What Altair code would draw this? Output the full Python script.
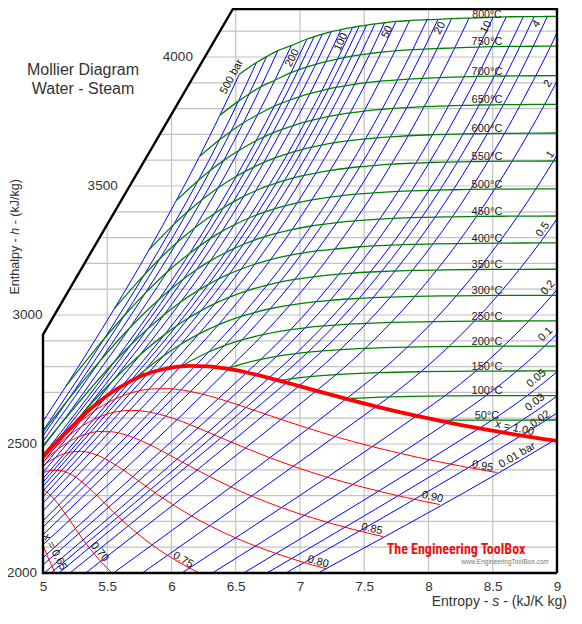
import altair as alt
import pandas as pd
import numpy as np

# ---------------- data (entropy s kJ/K kg, enthalpy h kJ/kg) ----------------
# saturated vapour line x = 1.00 : temperature degC, s, h
SAT_T = [370, 360, 350, 340, 330, 320, 310, 300, 280, 260, 250, 240, 220, 200, 180,
         160, 150, 140, 120, 100, 80, 60, 50, 40, 30, 20, 10, 5]
SAT_S = [4.800, 5.053, 5.218, 5.336, 5.442, 5.536, 5.624, 5.705, 5.857, 6.001, 6.073,
         6.141, 6.282, 6.431, 6.585, 6.749, 6.837, 6.929, 7.129, 7.354, 7.611, 7.908,
         8.075, 8.256, 8.452, 8.666, 8.899, 9.024]
SAT_H = [2331.0, 2481.0, 2563.6, 2622.0, 2666.0, 2700.6, 2727.3, 2749.6, 2779.9, 2796.4,
         2800.9, 2803.0, 2801.0, 2792.0, 2777.2, 2757.4, 2745.9, 2733.5, 2706.0, 2675.6,
         2643.0, 2608.8, 2591.3, 2573.5, 2555.6, 2537.4, 2519.2, 2510.1]

# constant quality lines (s, h)
X095 = [(4.996, 2445.0), (5.252, 2570.6), (5.432, 2638.6), (5.583, 2679.4), (5.718, 2702.7),
        (5.845, 2713.3), (5.969, 2714.7), (6.094, 2708.1), (6.226, 2695.0), (6.363, 2676.5),
        (6.509, 2653.3), (6.670, 2626.3), (6.849, 2595.9), (7.052, 2562.8), (7.284, 2527.6),
        (7.554, 2490.9), (7.872, 2453.2), (8.248, 2414.7), (8.532, 2389.5)]
X090 = [(4.939, 2409.1), (5.168, 2519.3), (5.327, 2576.7), (5.460, 2609.1), (5.578, 2625.6),
        (5.689, 2630.3), (5.797, 2626.5), (5.906, 2615.3), (6.021, 2598.0), (6.140, 2575.8),
        (6.268, 2549.2), (6.410, 2519.1), (6.569, 2485.8), (6.749, 2450.0), (6.957, 2412.2),
        (7.200, 2373.0), (7.488, 2332.9), (7.829, 2292.1), (8.088, 2265.3)]
X085 = [(4.883, 2373.1), (5.085, 2467.9), (5.223, 2514.7), (5.338, 2538.9), (5.439, 2548.4),
        (5.534, 2547.2), (5.625, 2538.2), (5.717, 2522.4), (5.816, 2501.0), (5.918, 2475.1),
        (6.028, 2445.1), (6.151, 2411.9), (6.289, 2375.7), (6.447, 2337.1), (6.631, 2296.8),
        (6.847, 2255.1), (7.104, 2212.6), (7.411, 2169.4), (7.645, 2141.1)]
X080 = [(4.826, 2337.1), (5.001, 2416.5), (5.119, 2452.7), (5.215, 2468.6), (5.299, 2471.3),
        (5.378, 2464.1), (5.453, 2449.9), (5.529, 2429.5), (5.611, 2404.1), (5.696, 2374.4),
        (5.788, 2341.0), (5.891, 2304.6), (6.009, 2265.6), (6.145, 2224.3), (6.304, 2181.4),
        (6.493, 2137.3), (6.719, 2092.3), (6.992, 2046.7), (7.201, 2016.8)]
X075 = [(4.917, 2365.1), (5.014, 2390.8), (5.092, 2398.4), (5.160, 2394.1), (5.222, 2381.1),
        (5.281, 2361.7), (5.341, 2336.7), (5.406, 2307.1), (5.474, 2273.7), (5.547, 2236.9),
        (5.632, 2197.4), (5.729, 2155.5), (5.842, 2111.5), (5.977, 2066.0), (6.139, 2019.4),
        (6.335, 1972.0)]
X070 = [(4.970, 2328.2), (5.020, 2317.0), (5.066, 2298.0), (5.109, 2273.4), (5.153, 2243.8),
        (5.201, 2210.1), (5.251, 2173.0), (5.307, 2132.8), (5.372, 2090.2), (5.449, 2045.3),
        (5.540, 1998.7)]
X065 = [(4.965, 2150.9), (4.996, 2113.1), (5.029, 2072.3), (5.067, 2028.7), (5.113, 1983.0)]

# isobars: (temperature degC or None, s, h)
P0_01 = [(None, 7.141, 2000.0), (None, 8.975, 2513.7), (50, 9.238, 2593.1)]
P0_02 = [(None, 6.889, 2000.0), (None, 8.724, 2533.2), (50, 8.918, 2593.0), (100, 9.191, 2687.9)]
P0_03 = [(None, 6.743, 2000.0), (None, 8.576, 2544.9), (50, 8.731, 2592.9), (100, 9.004, 2687.8),
         (150, 9.244, 2783.3)]
P0_05 = [(None, 6.562, 2000.0), (None, 8.394, 2560.7), (50, 8.495, 2592.8), (100, 8.768, 2687.7),
         (150, 9.008, 2783.2), (200, 9.224, 2879.6)]
P0_1 = [(None, 6.318, 2000.0), (None, 8.149, 2583.9), (50, 8.175, 2592.6), (100, 8.448, 2687.5),
        (150, 8.688, 2783.0), (200, 8.904, 2879.5), (250, 9.100, 2977.3), (300, 9.281, 3076.5)]
P0_2 = [(None, 6.080, 2000.0), (None, 7.907, 2608.9), (100, 8.127, 2686.3), (150, 8.368, 2782.4),
        (200, 8.584, 2879.1), (250, 8.781, 2977.0), (300, 8.962, 3076.3), (350, 9.131, 3177.4),
        (400, 9.288, 3279.5)]
P0_5 = [(None, 5.773, 2000.0), (None, 7.593, 2645.2), (100, 7.695, 2682.4), (150, 7.941, 2780.2),
        (200, 8.159, 2877.8), (250, 8.357, 2976.2), (300, 8.539, 3075.8), (350, 8.708, 3177.0),
        (400, 8.866, 3279.3), (450, 9.016, 3383.8), (500, 9.157, 3489.0), (550, 9.292, 3597.3)]
P1 = [(None, 5.548, 2000.0), (None, 7.359, 2674.9), (150, 7.615, 2776.6), (200, 7.836, 2875.5),
      (250, 8.035, 2974.5), (300, 8.217, 3074.5), (350, 8.386, 3176.3), (400, 8.545, 3278.6),
      (450, 8.695, 3383.2), (500, 8.836, 3488.7), (550, 8.972, 3596.9), (600, 9.100, 3705.6),
      (650, 9.224, 3816.6)]
P2 = [(None, 5.332, 2000.0), (None, 7.127, 2706.2), (150, 7.281, 2769.1), (200, 7.508, 2870.7),
      (250, 7.710, 2971.2), (300, 7.894, 3072.1), (350, 8.064, 3174.3), (400, 8.224, 3277.0),
      (450, 8.374, 3382.0), (500, 8.515, 3487.7), (550, 8.651, 3596.2), (600, 8.779, 3704.8),
      (650, 8.904, 3816.3), (700, 9.022, 3927.9), (750, 9.138, 4042.3)]
P3 = [(None, 5.209, 2000.0), (None, 6.992, 2724.9), (150, 7.079, 2761.2), (200, 7.313, 2865.9),
      (250, 7.518, 2967.9), (300, 7.704, 3069.6), (350, 7.874, 3172.6), (400, 8.035, 3275.5),
      (450, 8.186, 3380.7), (500, 8.327, 3486.6), (550, 8.463, 3595.3), (600, 8.592, 3704.0),
      (650, 8.716, 3815.7), (700, 8.835, 3927.4), (750, 8.951, 4042.0), (800, 9.058, 4157.4)]
P4 = [(None, 5.124, 2000.0), (None, 6.896, 2738.1), (150, 6.931, 2752.8), (200, 7.172, 2860.9),
      (250, 7.380, 2964.5), (300, 7.568, 3067.1), (350, 7.739, 3170.5), (400, 7.900, 3273.9),
      (450, 8.052, 3379.5), (500, 8.193, 3485.5), (550, 8.329, 3594.4), (600, 8.458, 3703.3),
      (650, 8.583, 3815.1), (700, 8.702, 3926.9), (750, 8.815, 4041.7), (800, 8.925, 4157.0)]
P5 = [(None, 5.060, 2000.0), (None, 6.821, 2748.1), (200, 7.061, 2855.8), (250, 7.273, 2961.0),
      (300, 7.461, 3064.6), (350, 7.634, 3168.6), (400, 7.796, 3272.4), (450, 7.947, 3378.3),
      (500, 8.089, 3484.5), (550, 8.226, 3593.5), (600, 8.354, 3702.5), (650, 8.479, 3814.5),
      (700, 8.598, 3926.4), (750, 8.712, 4041.3), (800, 8.822, 4156.6)]
P6 = [(None, 5.009, 2000.0), (None, 6.759, 2756.2), (200, 6.968, 2850.6), (250, 7.183, 2957.6),
      (300, 7.374, 3062.0), (350, 7.547, 3166.6), (400, 7.710, 3270.8), (450, 7.862, 3377.1),
      (500, 8.004, 3483.4), (550, 8.141, 3592.7), (600, 8.270, 3701.7), (650, 8.394, 3813.9),
      (700, 8.513, 3925.9), (750, 8.627, 4041.0), (800, 8.738, 4156.3)]
P8 = [(None, 5.000, 2031.3), (None, 6.662, 2768.3), (200, 6.818, 2839.8), (250, 7.040, 2950.4),
      (300, 7.235, 3056.9), (350, 7.409, 3162.6), (400, 7.574, 3267.7), (450, 7.726, 3374.5),
      (500, 7.869, 3481.3), (550, 8.006, 3591.0), (600, 8.135, 3700.1), (650, 8.260, 3812.6),
      (700, 8.380, 3924.9), (750, 8.494, 4040.3), (800, 8.605, 4155.7)]
P10 = [(None, 5.000, 2059.0), (None, 6.585, 2777.1), (200, 6.696, 2828.3), (250, 6.927, 2943.1),
       (300, 7.125, 3051.6), (350, 7.303, 3158.2), (400, 7.467, 3264.5), (450, 7.621, 3372.0),
       (500, 7.764, 3479.1), (550, 7.902, 3588.9), (600, 8.031, 3698.6), (650, 8.156, 3810.6),
       (700, 8.276, 3923.0), (750, 8.392, 4038.5), (800, 8.502, 4154.1)]
P15 = [(None, 5.000, 2109.9), (None, 6.445, 2791.0), (200, 6.455, 2796.0), (250, 6.712, 2923.9),
       (300, 6.921, 3038.2), (350, 7.105, 3147.8), (400, 7.271, 3255.5), (450, 7.427, 3365.0),
       (500, 7.573, 3473.7), (550, 7.711, 3584.4), (600, 7.842, 3694.8), (650, 7.966, 3807.5),
       (700, 8.088, 3920.2), (750, 8.204, 4035.5), (800, 8.316, 4151.0)]
P20 = [(None, 5.000, 2148.2), (None, 6.339, 2798.3), (250, 6.548, 2903.3), (300, 6.768, 3024.2),
       (350, 6.958, 3137.7), (400, 7.129, 3248.4), (450, 7.287, 3358.2), (500, 7.434, 3468.3),
       (550, 7.573, 3579.3), (600, 7.704, 3690.7), (650, 7.831, 3804.0), (700, 7.951, 3917.2),
       (750, 8.068, 4032.7), (800, 8.179, 4148.5)]
P25 = [(None, 5.000, 2177.7), (None, 6.256, 2802.0), (250, 6.411, 2880.9), (300, 6.646, 3009.6),
       (350, 6.842, 3127.0), (400, 7.017, 3240.1), (450, 7.177, 3351.6), (500, 7.325, 3462.8),
       (550, 7.466, 3574.6), (600, 7.598, 3686.8), (650, 7.725, 3800.6), (700, 7.846, 3914.4),
       (750, 7.963, 4030.2), (800, 8.074, 4146.0)]
P30 = [(None, 5.000, 2202.1), (None, 6.186, 2803.2), (250, 6.289, 2856.5), (300, 6.541, 2994.3),
       (350, 6.745, 3116.1), (400, 6.924, 3231.7), (450, 7.086, 3344.9), (500, 7.236, 3457.0),
       (550, 7.377, 3569.7), (600, 7.510, 3682.8), (650, 7.638, 3797.3), (700, 7.759, 3911.7),
       (750, 7.877, 4028.2), (800, 7.989, 4144.7)]
P40 = [(None, 5.000, 2240.9), (None, 6.070, 2800.8), (300, 6.364, 2961.7), (350, 6.584, 3093.3),
       (400, 6.771, 3214.5), (450, 6.939, 3331.2), (500, 7.092, 3446.0), (550, 7.235, 3560.2),
       (600, 7.371, 3674.9), (650, 7.499, 3790.6), (700, 7.621, 3906.3), (750, 7.740, 4023.8),
       (800, 7.852, 4141.2)]
P50 = [(None, 5.000, 2271.2), (None, 5.974, 2794.2), (300, 6.211, 2925.7), (350, 6.452, 3069.3),
       (400, 6.648, 3196.7), (450, 6.821, 3317.2), (500, 6.978, 3434.7), (550, 7.124, 3550.3),
       (600, 7.261, 3666.9), (650, 7.390, 3783.6), (700, 7.514, 3900.3), (750, 7.633, 4019.0),
       (800, 7.746, 4137.7)]
P60 = [(None, 5.000, 2296.1), (None, 5.890, 2784.6), (300, 6.070, 2885.6), (350, 6.336, 3043.9),
       (400, 6.543, 3178.3), (450, 6.722, 3302.9), (500, 6.883, 3423.1), (550, 7.031, 3541.3),
       (600, 7.169, 3658.7), (650, 7.300, 3776.5), (700, 7.425, 3894.3), (750, 7.545, 4013.5),
       (800, 7.658, 4132.7)]
P70 = [(None, 5.000, 2317.1), (None, 5.815, 2772.6), (300, 5.934, 2839.9), (350, 6.231, 3016.9),
       (400, 6.450, 3159.2), (450, 6.635, 3288.3), (500, 6.800, 3411.4), (550, 6.950, 3531.3),
       (600, 7.091, 3650.6), (650, 7.223, 3769.5), (700, 7.349, 3888.3), (750, 7.469, 4008.4),
       (800, 7.584, 4128.5)]
P80 = [(None, 5.000, 2335.4), (None, 5.745, 2758.7), (300, 5.794, 2786.5), (350, 6.132, 2988.1),
       (400, 6.366, 3139.4), (450, 6.558, 3273.3), (500, 6.727, 3399.5), (550, 6.880, 3521.8),
       (600, 7.022, 3642.4), (650, 7.155, 3762.3), (700, 7.282, 3882.2), (750, 7.403, 4003.0),
       (800, 7.519, 4123.9)]
P90 = [(None, 5.000, 2351.6), (None, 5.679, 2742.9), (350, 6.038, 2957.3), (400, 6.288, 3118.8),
       (450, 6.487, 3258.0), (500, 6.660, 3387.4), (550, 6.815, 3511.5), (600, 6.961, 3634.1),
       (650, 7.094, 3755.1), (700, 7.222, 3876.1), (750, 7.344, 3997.7), (800, 7.461, 4119.3)]
P100 = [(None, 5.000, 2365.8), (None, 5.616, 2725.5), (350, 5.946, 2924.0), (400, 6.214, 3097.5),
        (450, 6.422, 3242.4), (500, 6.600, 3375.1), (550, 6.759, 3502.0), (600, 6.905, 3625.8),
        (650, 7.041, 3748.1), (700, 7.170, 3870.0), (750, 7.292, 3992.3), (800, 7.409, 4114.5)]
P120 = [(None, 5.000, 2389.5), (None, 5.494, 2684.8), (350, 5.756, 2846.1), (400, 6.074, 3051.5),
        (450, 6.302, 3209.7), (500, 6.490, 3349.9), (550, 6.655, 3481.6), (600, 6.805, 3608.8),
        (650, 6.945, 3733.3), (700, 7.077, 3857.7), (750, 7.201, 3982.1), (800, 7.320, 4106.5)]
P140 = [(None, 5.000, 2410.3), (None, 5.373, 2637.6), (350, 5.546, 2746.4), (400, 5.943, 3001.4),
        (450, 6.193, 3175.3), (500, 6.392, 3323.9), (550, 6.562, 3459.8), (600, 6.718, 3591.2),
        (650, 6.860, 3719.3), (700, 6.994, 3845.3), (750, 7.123, 3971.8), (800, 7.244, 4098.2)]
P160 = [(None, 5.000, 2428.0), (None, 5.246, 2580.8), (350, 5.303, 2616.0), (400, 5.815, 2946.6),
        (450, 6.091, 3138.6), (500, 6.302, 3296.1), (550, 6.479, 3437.7), (600, 6.640, 3573.4),
        (650, 6.786, 3705.0), (700, 6.922, 3833.3), (750, 7.051, 3961.1), (800, 7.174, 4088.8)]
P180 = [(None, 5.000, 2444.0), (None, 5.104, 2509.5), (400, 5.686, 2885.9), (450, 5.994, 3099.8),
        (500, 6.217, 3266.9), (550, 6.404, 3415.8), (600, 6.570, 3555.6), (650, 6.720, 3690.2),
        (700, 6.858, 3821.5), (750, 6.987, 3950.2), (800, 7.110, 4078.8)]
P200 = [(None, 5.000, 2456.0), (400, 5.554, 2818.1), (450, 5.902, 3060.1), (500, 6.140, 3238.2),
        (550, 6.335, 3393.5), (600, 6.505, 3537.6), (650, 6.658, 3675.3), (700, 6.799, 3809.0),
        (750, 6.930, 3939.4), (800, 7.054, 4069.8)]
P250 = [(None, 5.000, 2488.0), (400, 5.140, 2578.7), (None, 5.470, 2806.3), (450, 5.676, 2950.6),
        (500, 5.964, 3165.9), (550, 6.182, 3338.5), (600, 6.364, 3493.5), (650, 6.524, 3637.7),
        (700, 6.670, 3776.0), (750, 6.804, 3909.9), (800, 6.932, 4043.8)]
P300 = [(400, 4.476, 2152.8), (None, 5.146, 2612.0), (450, 5.442, 2821.0), (500, 5.796, 3084.8),
        (550, 6.040, 3279.7), (600, 6.237, 3446.7), (650, 6.407, 3599.4), (700, 6.560, 3745.4),
        (750, 6.697, 3885.1), (800, 6.828, 4024.7)]
P350 = [(None, 4.775, 2373.5), (450, 5.195, 2671.0), (500, 5.633, 2997.9), (550, 5.909, 3218.0),
        (600, 6.123, 3399.0), (650, 6.303, 3560.7), (700, 6.462, 3711.6), (750, 6.604, 3856.6),
        (800, 6.740, 4001.5)]
P400 = [(None, 4.504, 2198.1), (450, 4.945, 2511.8), (500, 5.474, 2906.5), (550, 5.786, 3154.4),
        (600, 6.017, 3350.4), (650, 6.208, 3521.6), (700, 6.374, 3679.2), (750, 6.521, 3828.9),
        (800, 6.661, 3978.6)]
P500 = [(450, 4.590, 2284.7), (500, 5.176, 2722.5), (550, 5.556, 3025.0), (600, 5.825, 3252.6),
        (650, 6.037, 3443.5), (700, 6.218, 3614.6), (750, 6.376, 3773.8), (800, 6.528, 3933.0)]

PRESSURES = [0.01, 0.02, 0.03, 0.05, 0.1, 0.2, 0.5, 1, 2, 3, 4, 5, 6, 8, 10, 15, 20, 25, 30,
             40, 50, 60, 70, 80, 90, 100, 120, 140, 160, 180, 200, 250, 300, 350, 400, 500]
ISOBAR_ROWS = [P0_01, P0_02, P0_03, P0_05, P0_1, P0_2, P0_5, P1, P2, P3, P4, P5, P6, P8, P10,
               P15, P20, P25, P30, P40, P50, P60, P70, P80, P90, P100, P120, P140, P160, P180,
               P200, P250, P300, P350, P400, P500]
TEMPS = [50, 100, 150, 200, 250, 300, 350, 400, 450, 500, 550, 600, 650, 700, 750, 800]
QUALITY = [("0.95", X095), ("0.90", X090), ("0.85", X085), ("0.80", X080),
           ("0.75", X075), ("0.70", X070), ("0.65", X065)]

X_TICKS = [5, 5.5, 6, 6.5, 7, 7.5, 8, 8.5, 9]
Y_TICKS = [2000, 2500, 3000, 3500, 4000]
GRID_S = [5.5, 6, 6.5, 7, 7.5, 8, 8.5]
GRID_H = list(range(2100, 4101, 100))
BORDER_CORNER = [(5.0, 2924.0), (6.5, 4205.0)]   # diagonal edge of the chart frame

# isobar labels: text, s, h, angle
ISOBAR_LABELS = [("500 bar", 6.47, 3923, 298), ("200", 6.94, 3996, 298), ("100", 7.32, 4058, 295),
                 ("50", 7.68, 4097, 295), ("20", 8.09, 4112, 298), ("10", 8.45, 4116, 298),
                 ("4", 8.84, 4128, 305), ("2", 8.93, 3896, 305), ("1", 8.95, 3621, 308),
                 ("0.5", 8.89, 3331, 305), ("0.2", 8.93, 3106, 310), ("0.1", 8.91, 2925, 315),
                 ("0.05", 8.84, 2754, 320), ("0.03", 8.83, 2661, 322), ("0.02", 8.87, 2596, 325),
                 ("0.01 bar", 8.69, 2456, 330)]
QUALITY_LABELS = [("x = 1.00", 8.67, 2561, 12), ("0.95", 8.42, 2414, 10), ("0.90", 8.03, 2294, 12),
                  ("0.85", 7.56, 2170, 12), ("0.80", 7.14, 2043, 15), ("0.75", 6.09, 2050, 30),
                  ("0.70", 5.44, 2081, 50), ("x = 0.65", 5.09, 2081, 62)]
ISOTHERM_LABEL_S = 8.455

# ---------------- frame geometry ----------------
W, HGT = 514, 564
S_MIN, S_MAX = 5.0, 9.0
H_MIN = 2000.0
H_TOP = H_MIN + HGT / 0.258
(c_s, c_h), (d_s, d_h) = BORDER_CORNER
slope = (d_h - c_h) / (d_s - c_s)


def border_s(h):
    return S_MIN if h <= c_h else c_s + (h - c_h) / slope


def border_h(s):
    return min(H_TOP, c_h + (s - c_s) * slope)


FONT = "Liberation Sans"
xs = alt.Scale(domain=[S_MIN, S_MAX], nice=False, zero=False)
ys = alt.Scale(domain=[H_MIN, H_TOP], nice=False, zero=False)
xaxis = alt.Axis(values=X_TICKS, format="~g", title=None, grid=False, domain=False,
                 ticks=False, tickSize=0, labelPadding=6, labelFontSize=13.5,
                 labelColor="#333333", labelFont=FONT, labelFlush=False)


def X(f="s"):
    return alt.X(f"{f}:Q", scale=xs, axis=xaxis)


def Y(f="h"):
    return alt.Y(f"{f}:Q", scale=ys, axis=None)


# ---------------- frames ----------------
rows = []
for p, row in zip(PRESSURES, ISOBAR_ROWS):
    for i, (t, s, h) in enumerate(row):
        rows.append({"line": f"p{p}", "i": i, "s": s, "h": h})
df_bar = pd.DataFrame(rows)

sat_lookup = {t: (s, h) for t, s, h in zip(SAT_T, SAT_S, SAT_H)}
rows, lab = [], []
for T in TEMPS:
    pts = []
    if T <= 350 and T in sat_lookup:
        pts.append(sat_lookup[T])
    for row in ISOBAR_ROWS:
        for (t, s, h) in row:
            if t == T:
                pts.append((s, h))
    pts.sort()
    for i, (s, h) in enumerate(pts):
        rows.append({"line": f"t{T}", "i": i, "s": s, "h": h})
    ss = np.array([q[0] for q in pts]); hh = np.array([q[1] for q in pts])
    lab.append({"T": T, "s": ISOTHERM_LABEL_S,
                "h": float(np.interp(ISOTHERM_LABEL_S, ss, hh)), "text": f"{T}°C"})
df_tem = pd.DataFrame(rows)
df_tem_lab = pd.DataFrame(lab)

rows = []
for name, pts in QUALITY:
    for i, (s, h) in enumerate(pts):
        rows.append({"line": name, "i": i, "s": s, "h": h})
df_q = pd.DataFrame(rows)
df_sat = pd.DataFrame({"s": SAT_S, "h": SAT_H, "i": range(len(SAT_S))})

grid_rows = [{"s": s, "s2": s, "h": H_MIN, "h2": border_h(s)} for s in GRID_S]
grid_rows += [{"s": border_s(h), "s2": S_MAX, "h": h, "h2": h} for h in GRID_H]
df_grid = pd.DataFrame(grid_rows)

top_s = border_s(H_TOP)
df_border = pd.DataFrame({"s": [S_MAX, S_MIN, c_s, top_s, S_MAX, S_MAX],
                          "h": [H_MIN, H_MIN, c_h, H_TOP, H_TOP, H_MIN],
                          "i": range(6)})

df_bl = pd.DataFrame(ISOBAR_LABELS, columns=["text", "s", "h", "angle"])
df_ql = pd.DataFrame(QUALITY_LABELS, columns=["text", "s", "h", "angle"])
df_yt = pd.DataFrame({"h": Y_TICKS, "s": [border_s(h) for h in Y_TICKS],
                      "text": [str(h) for h in Y_TICKS]})
df_yt["diag"] = df_yt["h"] > c_h

# ---------------- layers ----------------
grid = alt.Chart(df_grid).mark_rule(color="#c2c2c2", strokeWidth=1.2).encode(
    x=X("s"), x2="s2:Q", y=Y("h"), y2="h2:Q")

isobars = alt.Chart(df_bar).mark_line(color="#0000ff", strokeWidth=1, interpolate="monotone",
                                      clip=True).encode(
    x=X(), y=Y(), detail="line:N", order="i:Q")

isotherms = alt.Chart(df_tem).mark_line(color="#008000", strokeWidth=1.3, interpolate="monotone",
                                        clip=True).encode(
    x=X(), y=Y(), detail="line:N", order="i:Q")

quality = alt.Chart(df_q).mark_line(color="#ff0000", strokeWidth=1, interpolate="monotone",
                                    clip=True).encode(
    x=X(), y=Y(), detail="line:N", order="i:Q")

satline = alt.Chart(df_sat).mark_line(color="#ff0000", strokeWidth=3.8, interpolate="monotone",
                                      clip=True).encode(
    x=X(), y=Y(), order="i:Q")

border = alt.Chart(df_border).mark_line(color="#000000", strokeWidth=2.4, strokeJoin="miter",
                                        clip=False).encode(
    x=X(), y=Y(), order="i:Q")

tem_labels = alt.Chart(df_tem_lab[df_tem_lab["T"] < 800]).mark_text(
    font=FONT, fontSize=11, color="#222222", align="center", baseline="alphabetic",
    dy=-1.5).encode(x=X(), y=Y(), text="text:N")
# the top label sits right against the frame, so it hugs its line
tem_label_top = alt.Chart(df_tem_lab[df_tem_lab["T"] == 800]).mark_text(
    font=FONT, fontSize=10.5, color="#222222", align="center", baseline="alphabetic",
    dy=0.5).encode(x=X(), y=Y(), text="text:N")

bar_labels = alt.Chart(df_bl).mark_text(font=FONT, fontSize=11, color="#111111",
                                        align="center", baseline="middle").encode(
    x=X(), y=Y(), text="text:N", angle=alt.Angle("angle:Q", scale=None))

q_labels = alt.Chart(df_ql).mark_text(font=FONT, fontSize=11, color="#111111",
                                      align="center", baseline="middle").encode(
    x=X(), y=Y(), text="text:N", angle=alt.Angle("angle:Q", scale=None))

yt_v = alt.Chart(df_yt[~df_yt["diag"]]).mark_text(font=FONT, fontSize=13.5, color="#333333",
                                                  align="right", baseline="middle", dx=-6).encode(
    x=X(), y=Y(), text="text:N")
yt_d = alt.Chart(df_yt[df_yt["diag"]]).mark_text(font=FONT, fontSize=13.5, color="#333333",
                                                 align="right", baseline="middle", dx=-12).encode(
    x=X(), y=Y(), text="text:N")

one = pd.DataFrame({"k": [0]})


def note(text, x, y, **kw):
    return alt.Chart(one).mark_text(text=text, font=kw.pop("font", FONT), **kw).encode(
        x=alt.value(x), y=alt.value(y))


title1 = note("Mollier Diagram", 40, 61, fontSize=16, color="#333333", align="center",
              baseline="middle")
title2 = note("Water - Steam", 40, 80, fontSize=16, color="#333333", align="center",
              baseline="middle")

# y title "Enthalpy - h - (kJ/kg)" (h in italics), rotated, reading bottom to top
YT_FS, YT_X, YT_BOTTOM = 12.5, -28, 285.5
YT_SP = 3.47                      # width of a space at this size
yt1 = note("Enthalpy -", YT_X, YT_BOTTOM, fontSize=YT_FS, color="#333333", align="left",
           baseline="middle", angle=270)
yt2_y = YT_BOTTOM - 56.27 - YT_SP
yt2 = note("h", YT_X, yt2_y, fontSize=YT_FS, color="#333333", align="left",
           baseline="middle", angle=270, fontStyle="italic")
yt3 = note("- (kJ/kg)", YT_X, yt2_y - 6.95 - YT_SP, fontSize=YT_FS, color="#333333",
           align="left", baseline="middle", angle=270)

# x title "Entropy - s - (kJ/K kg)" (s in italics), right aligned
XT_FS, XT_RIGHT, XT_Y = 14, 524, 593
XT_SP = 3.89
xt3 = note("- (kJ/K kg)", XT_RIGHT, XT_Y, fontSize=XT_FS, color="#333333", align="right",
           baseline="middle")
xt2_x = XT_RIGHT - 63.78 - XT_SP
xt2 = note("s", xt2_x, XT_Y, fontSize=XT_FS, color="#333333", align="right",
           baseline="middle", fontStyle="italic")
xt1 = note("Entropy -", xt2_x - 7.0 - XT_SP, XT_Y, fontSize=XT_FS, color="#333333",
           align="right", baseline="middle")

wm1 = note("The Engineering ToolBox", 413, 541, fontSize=14, fontWeight="bold",
           color="#ee1111", align="center", baseline="middle",
           font="Liberation Sans Narrow, Roboto Condensed, DejaVu Sans Condensed, sans-serif")
wm2 = note("www.EngineeringToolBox.com", 462, 553, fontSize=6.5, color="#777777",
           align="center", baseline="middle")

chart = alt.layer(
    grid, isobars, isotherms, quality, satline, border,
    tem_labels, tem_label_top, bar_labels, q_labels, yt_v, yt_d,
    title1, title2, yt1, yt2, yt3, xt1, xt2, xt3, wm1, wm2
).properties(
    width=W, height=HGT,
    padding={"left": 35, "top": 1, "right": 17, "bottom": 45},
    autosize=alt.AutoSizeParams(type="none"),
    background="white",
).configure_view(strokeWidth=0)

chart.save("out.html", embed_options={"renderer": "svg", "actions": False})
